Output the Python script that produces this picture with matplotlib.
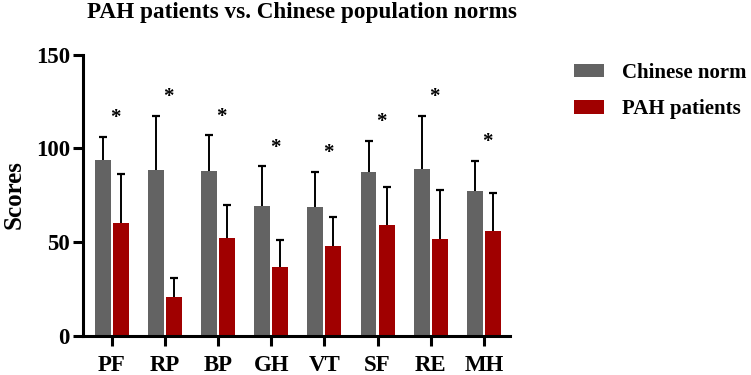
import numpy as np
import matplotlib
matplotlib.use("Agg")
import matplotlib.pyplot as plt
from matplotlib.patches import Patch

plt.rcParams['font.family'] = ['Liberation Serif', 'DejaVu Serif']
plt.rcParams['font.weight'] = 'bold'

domains = ["PF", "RP", "BP", "GH", "VT", "SF", "RE", "MH"]
norm_mean = [93.9, 88.5, 87.8, 69.3, 68.6, 87.6, 89.2, 77.2]
norm_sd = [12.4, 28.8, 19.2, 21.2, 18.9, 16.4, 28.1, 16.0]
pah_mean = [60.4, 21.0, 52.3, 36.6, 48.0, 59.0, 51.7, 56.2]
pah_sd = [26.0, 10.1, 17.7, 14.4, 15.6, 20.3, 26.3, 20.2]
series_labels = ["Chinese norm", "PAH patients"]

GRAY = "#636363"
RED = "#a00000"

fig = plt.figure(figsize=(7.51, 3.75), dpi=100)
ax = fig.add_axes([0.1105, 0.104, 0.5685, 0.75])

x = np.arange(len(domains))
w = 0.30
off = 0.17

for means, sds, color, shift in [(norm_mean, norm_sd, GRAY, -off), (pah_mean, pah_sd, RED, off)]:
    means = np.array(means)
    tops = means + np.array(sds)
    ax.bar(x + shift, means, width=w, color=color, edgecolor='none', zorder=2)
    ax.vlines(x + shift, means, tops, color='black', lw=1.4, zorder=3)
    ax.plot(x + shift, tops, ls='none', marker='_', ms=5.5, mew=1.6, color='black', zorder=3)

# significance stars above the tallest error bar of each pair
star_y = np.maximum(np.array(norm_mean) + norm_sd, np.array(pah_mean) + pah_sd) + 10
for xi, yi in zip(x, star_y):
    ax.text(xi + 0.07, yi, "*", ha='center', va='center', fontsize=15, fontweight='bold')

ax.set_xlim(-0.54, 7.49)
ax.set_ylim(0, 150)
ax.set_yticks([0, 50, 100, 150])
ax.set_xticks(x)
ax.set_xticklabels(domains)

for s in ['top', 'right']:
    ax.spines[s].set_visible(False)
for s in ['left', 'bottom']:
    ax.spines[s].set_linewidth(2.2)
ax.tick_params(axis='both', width=2.2, length=7.5, labelsize=16.5)
ax.tick_params(axis='x', pad=6)
ax.tick_params(axis='y', pad=2)
for lab in ax.get_xticklabels() + ax.get_yticklabels():
    lab.set_fontweight('bold')

fig.text(14 / 751, 1 - 195 / 375, "Scores", rotation=90, ha='center', va='center',
         fontsize=18, fontweight='bold')

fig.text(0.402, 0.967, "PAH patients vs. Chinese population norms",
         ha='center', va='center', fontsize=16.7, fontweight='bold')

handles = [Patch(facecolor=GRAY), Patch(facecolor=RED)]
fig.legend(handles, series_labels, loc='upper left', bbox_to_anchor=(574 / 751, 0.832),
           frameon=False, handlelength=1.45, handleheight=0.6, borderpad=0, borderaxespad=0,
           labelspacing=0.78, handletextpad=0.85, prop={'weight': 'bold', 'size': 15})

fig.savefig("out.png", dpi=100)
